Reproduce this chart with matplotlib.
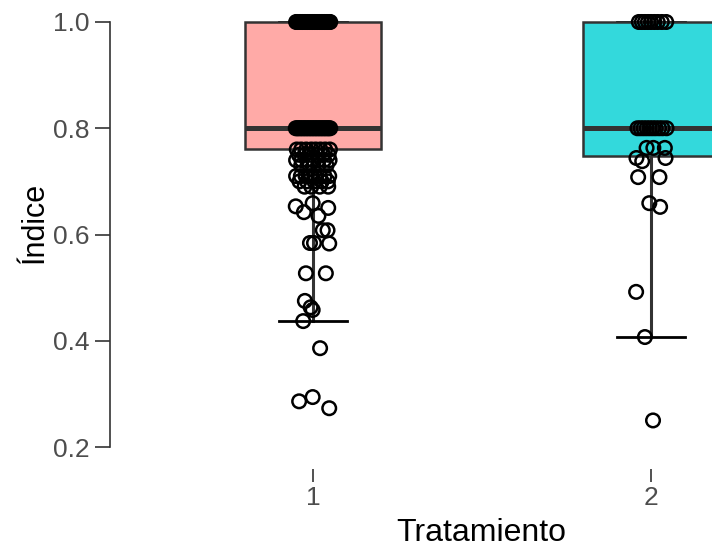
import numpy as np
import matplotlib
matplotlib.use("Agg")
import matplotlib.pyplot as plt

plt.rcParams['font.family'] = ['Liberation Sans', 'DejaVu Sans']

# group labels / positions
groups = ["1", "2"]
box_colors = ["#FFAAA7", "#33D9DC"]

# box stats
q1 = [0.761, 0.748]
med = [0.80, 0.80]
q3 = [1.00, 1.00]
whis_lo = [0.437, 0.407]
whis_hi = [1.00, 1.00]

# individual observations (value, horizontal jitter offset)
vals_1 = ([1.0] * 22 + [0.8] * 24 +
          [0.76] * 8 + [0.75] * 6 + [0.74] * 7 + [0.73] * 4 +
          [0.71] * 8 + [0.70] * 5 + [0.69] * 4 +
          [0.659, 0.653, 0.650, 0.642, 0.635, 0.608, 0.608, 0.584, 0.584, 0.583,
           0.527, 0.527, 0.475, 0.463, 0.458, 0.437, 0.386, 0.294, 0.286, 0.273])
jit_1 = ([-0.05, -0.046, -0.041, -0.036, -0.031, -0.026, -0.021, -0.016, -0.011, -0.006, -0.001,
          0.004, 0.009, 0.014, 0.019, 0.024, 0.029, 0.034, 0.039, 0.044, 0.048, 0.051] +
         [-0.051, -0.047, -0.043, -0.038, -0.034, -0.029, -0.025, -0.02, -0.016, -0.011, -0.007, -0.002,
          0.002, 0.007, 0.011, 0.016, 0.02, 0.025, 0.029, 0.034, 0.038, 0.043, 0.047, 0.051] +
         [-0.048, -0.035, -0.02, -0.005, 0.008, 0.022, 0.036, 0.05] +
         [-0.042, -0.025, -0.008, 0.012, 0.03, 0.046] +
         [-0.05, -0.034, -0.018, 0.0, 0.016, 0.033, 0.049] + [-0.035, -0.01, 0.015, 0.04] +
         [-0.05, -0.036, -0.022, -0.008, 0.006, 0.02, 0.034, 0.048] +
         [-0.04, -0.018, 0.004, 0.026, 0.044] + [-0.025, -0.005, 0.02, 0.045] +
         [-0.001, -0.051, 0.045, -0.027, 0.016, 0.029, 0.043, -0.009, 0.003, 0.048,
          -0.021, 0.038, -0.024, -0.007, -0.001, -0.029, 0.021, -0.001, -0.041, 0.048])

vals_2 = ([1.0] * 9 + [0.8] * 10 +
          [0.763, 0.763, 0.763, 0.744, 0.744, 0.738, 0.708, 0.708,
           0.659, 0.652, 0.492, 0.407, 0.250])
jit_2 = ([-0.036, -0.027, -0.018, -0.009, 0.0, 0.01, 0.02, 0.032, 0.045] +
         [-0.04, -0.031, -0.022, -0.013, -0.004, 0.005, 0.014, 0.024, 0.034, 0.046] +
         [-0.013, 0.007, 0.041, -0.043, 0.043, -0.026, -0.038, 0.025,
          -0.005, 0.027, -0.044, -0.018, 0.006])

fig = plt.figure(figsize=(7.12, 5.48), dpi=100)
ax = fig.add_axes([110 / 712, 0.14416, 1 - 110 / 712, 0.85584])

pos = [1, 2]
stats = []
for i in range(2):
    stats.append(dict(med=med[i], q1=q1[i], q3=q3[i], whislo=whis_lo[i], whishi=whis_hi[i], fliers=[]))

bp = ax.bxp(stats, positions=pos, widths=0.4, patch_artist=True, showfliers=False,
            capwidths=0.2,
            boxprops=dict(edgecolor="#333333", linewidth=1.8),
            medianprops=dict(color="#333333", linewidth=3.6),
            whiskerprops=dict(color="#333333", linewidth=2.2),
            capprops=dict(color="black", linewidth=2.0))
for patch, c in zip(bp['boxes'], box_colors):
    patch.set_facecolor(c)
    patch.set_zorder(2)
for m in bp['medians']:
    m.set_zorder(2.5)
for w in bp['whiskers']:
    w.set_zorder(1)
for cp in bp['caps']:
    cp.set_zorder(1)

for p, v, j in [(1, vals_1, jit_1), (2, vals_2, jit_2)]:
    ax.scatter(np.array(j) + p, v, s=95, facecolors="none", edgecolors="black",
               linewidths=1.8, zorder=3, clip_on=False)

ax.set_xlim(0.3994, 2.1805)
ax.set_ylim(0.1586, 1.0414)

ax.spines['top'].set_visible(False)
ax.spines['right'].set_visible(False)
ax.spines['bottom'].set_visible(False)
ax.spines['left'].set_bounds(0.2, 1.0)
ax.spines['left'].set_color("#333333")
ax.spines['left'].set_linewidth(1.2)

ax.set_yticks([0.2, 0.4, 0.6, 0.8, 1.0])
ax.set_yticklabels(["0.2", "0.4", "0.6", "0.8", "1.0"])
ax.set_xticks(pos)
ax.set_xticklabels(groups)
ax.tick_params(axis='y', length=10.5, width=1.2, color="#333333", labelcolor="#4D4D4D",
               labelsize=19, pad=4)
ax.tick_params(axis='x', length=9, width=1.2, color="#333333", labelcolor="#4D4D4D",
               labelsize=19, pad=3)

ax.set_ylabel("Índice", fontsize=22, color="black")
ax.yaxis.set_label_coords(-75 / 602, (548 - 222 - 79) / 469)
ax.set_xlabel("Tratamiento", fontsize=23, color="black")
ax.xaxis.set_label_coords((481 - 110) / 602, -(533 - 469) / 469)
ax.xaxis.label.set_va("center")
ax.yaxis.label.set_va("center")

fig.savefig("out.png", dpi=100)
